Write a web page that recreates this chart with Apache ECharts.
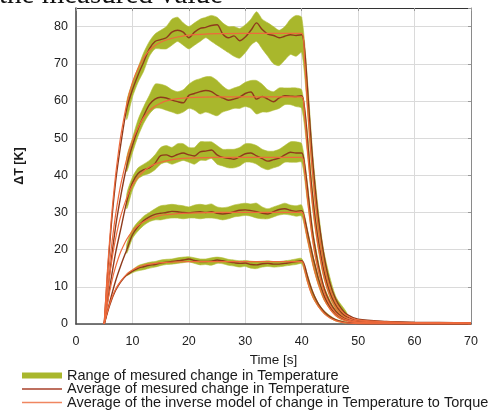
<!DOCTYPE html>
<html>
<head>
<meta charset="utf-8">
<script src="https://cdn.jsdelivr.net/npm/echarts@6/dist/echarts.min.js"></script>
<style>
  html, body { margin: 0; padding: 0; background: #fff; }
  #chart { width: 489px; height: 410px; }
</style>
</head>
<body>
<div id="chart"></div>
<script>
// time grids [s]
const timeMeas = [5,6,7,8,9,10,11,12,13,14,15,16,17,18,19,20,21,22,23,24,25,26,27,28,29,30,31,32,33,34,35,36,37,38,39,40,40.5,41,41.5,42,42.5,43,44,45,46,47,48,50,55,60,70];
const timeModel = [5,5.5,6,6.5,7,7.5,8,9,10,11,12,13,14,15,16,18,20,25,30,35,40,40.5,41,41.5,42,42.5,43,44,45,46,47,48,50,55,60,70];
const timeBand = [9,10,11,12,13,14,15,16,17,18,19,20,21,22,23,24,25,26,27,28,29,30,31,32,33,34,35,36,37,38,39,40,41,42,43,44,46,48];

// average of measured change in temperature, one array per load step
const meas1 = [0,22,38,49,58,63,67,70.5,74,76,76.5,77,78.5,79,78.5,77,78.5,79.5,79.8,80.3,80.5,78,77,77.5,76.2,77.2,79,81,79.2,78,77.6,77,77.4,77.8,77.6,77.8,74,64,53,43,35,28,18,11,6.8,4.2,2.6,1.3,0.7,0.5,0.3];
const meas2 = [0,14,26,35,42.5,48,52.5,56,59,60.5,61,60.8,60.2,59.8,59.5,61.5,62,62.5,62.8,62.5,61.5,60.8,60.2,60.5,61,62,62.4,60.5,61.2,60.5,59.8,60.8,61.4,61.3,61.2,61.4,58,50,41,33.5,27,22,13.8,8.5,5.2,3.1,1.9,0.9,0.5,0.35,0.25];
const meas3 = [0,10,19,26,33,38,40.5,41.5,42,43.2,45.3,45.5,45,45.6,46,45.5,45.2,46.3,46.5,46.8,45.5,44.8,44.6,44.3,45,45.8,46,45.2,44.5,43.8,44.2,44.6,45.5,46.2,46,46,43,37,30,24,19.5,15.5,9.5,5.8,3.5,2.1,1.3,0.6,0.3,0.2,0.15];
const meas4 = [0,6,11.5,16,20,24,26.2,27.8,28.8,29.5,29.8,30,30.3,30.2,30,29.9,30.1,30.2,30,30.2,29.8,29.6,29.8,30.2,30.6,30.7,30.5,30.2,29.8,29.6,30.2,30.8,31,30.6,30.3,30.5,28.5,25,21.5,18,15,12,7.5,4.6,2.8,1.7,1,0.4,0.2,0.15,0.1];
const meas5 = [0,5.2,9,11.5,13.2,14.2,15,15.4,15.8,16,16.4,16.6,16.8,17,17.2,17.5,17.1,16.8,16.8,16.9,17.2,17,16.7,16.5,16.3,16.4,16,15.9,16.2,16.3,16.1,16.1,16.3,16.5,16.8,17,15.8,13,10.5,8.4,6.7,5.3,3.3,2,1.2,0.7,0.4,0.15,0.05,0,0];

// inverse model
const model1 = [0,12.8,23.4,32.4,39.8,46,51.2,59.3,64.9,68.8,71.6,73.6,74.9,75.8,76.4,77.2,77.7,78.1,78.2,78.2,78.2,71,59,48,39,31.5,25,15.5,9.5,5.8,3.6,2.3,1.1,0.6,0.4,0.3];
const model2 = [0,9.5,17,23.5,29.2,34,38,44.5,49.3,52.8,55.6,57.4,58.6,59.4,60,60.6,60.9,61.1,61.1,61.1,61.1,56,47,38.5,31,25,20,12.2,7.3,4.4,2.6,1.6,0.8,0.5,0.35,0.25];
const model3 = [0,7.3,13.4,18.6,22.8,26.4,29.4,34,37.3,39.5,41.1,42.2,43,43.5,43.9,44.4,44.6,44.8,44.8,44.8,44.8,41,34,27.5,22,17.5,14,8.5,5.1,3,1.8,1.1,0.5,0.3,0.2,0.15];
const model4 = [0,4.9,9,12.5,15.3,17.7,19.7,22.8,25,26.5,27.5,28.3,28.8,29.2,29.4,29.7,29.85,30,30,30,30,27,23,19.5,16,13,10.5,6.5,4,2.3,1.3,0.8,0.35,0.2,0.15,0.1];
const model5 = [0,3,5.5,7.6,9.3,10.6,11.7,13.4,14.5,15.3,15.8,16.1,16.3,16.5,16.6,16.7,16.8,16.8,16.8,16.8,16.8,14.5,11.5,9,7.2,5.8,4.6,2.8,1.6,0.9,0.5,0.3,0.1,0.05,0,0];

// range of measured values (low / high)
const bandLo1 = [55,61,65,68,72,74,74,74,75,76,75,74,75,76,77,76,75,74,73,72,71.5,73,75,76,74,72,70,69.5,71,72.5,72,73,58,38,24,15,4.5,1.5];
const bandHi1 = [60,65,69,73,76,78,79,80,82,82.5,81,80,81,82,82.5,83,82.5,81,80,80,79.5,80.5,82,84,82,81,80,79,80,82,83,82.5,66,45,30,19,7.5,3];
const bandLo2 = [41,46,50.5,54,56.5,58,58,57.5,57,56.5,57,58,57.5,56.5,57,56.5,56,57,57.5,58,58,58.5,58,56.5,57,57,57.5,58,59,59,58.5,58,46,30,19.5,12,4,1.4];
const bandHi2 = [45,50,55,58.5,61.5,64.5,64.5,64,63,62.5,63,64.5,65.5,66,66.5,66.5,65.5,64,63,63.5,64,65,65.5,65.5,64.5,63,62.5,63.5,63.5,63.5,63.5,63,52,35,23,14.5,5.8,2.2];
const bandLo3 = [31,36,39,40,40.5,41.5,43,43.5,43,43.5,44,43.5,43,44,44,44.5,43,42.5,42,42,42.5,43.5,43.5,43,42,41.5,42,42.5,43.5,43.5,43.5,43.5,33,21.5,13.5,8.3,2.9,1];
const bandHi3 = [35,39.5,42,43,44,45.5,47.5,48,47.5,48.5,48.5,47.5,47.5,49,49,49,48,47,47,47,47.5,48.5,48.5,48,47,46.5,46.5,47,48,49,49,48.5,38,25,16.5,10,3.8,1.5];
const bandLo4 = [19,23,25,26.5,27.5,28,28,28.3,28.5,28.5,28.3,28.5,28.5,28.3,28.5,28.5,28.3,28,28.3,28.8,29,29.2,29,28.5,28.3,28.3,28.8,29.3,29.5,29.3,29,29,22.5,15.5,10.2,6.3,2.2,0.7];
const bandHi4 = [21.5,25.5,27.5,29,30,31,31.8,32,32.2,32,31.8,31.5,32,32.2,32,32.3,31.5,31.3,31.5,32,32.3,32.5,32.3,32.5,31.5,31,31.5,32,32.5,32,31.8,32,25.5,18.5,12.5,7.9,3,1.1];
const bandLo5 = [13,13.8,14.3,14.6,15,15.3,15.7,16,16.1,16.3,16.5,16.7,16.3,15.9,16,15.8,16.3,16.2,15.8,15.6,15.3,15.5,15,14.9,15.3,15.5,15.3,15.4,15.6,15.8,16,16.2,11.3,7,4.5,2.7,0.8,0.2];
const bandHi5 = [13.5,14.6,15.7,16.2,16.6,16.8,17.2,17.4,17.5,17.8,18,18.1,17.8,17.5,17.5,17.8,18,17.8,17.4,17.2,17,17.1,16.9,16.8,16.9,17,16.8,16.8,17,17.2,17.5,17.6,13.3,8.6,5.5,3.5,1.3,0.5];

const xTicks = [0,10,20,30,40,50,60,70];
const yTicks = [0,10,20,30,40,50,60,70,80];

const nameBand = 'Range of mesured change in Temperature';
const nameMeas = 'Average of mesured change in Temperature';
const nameModel = 'Average of the inverse model of change in Temperature to Torque';

const measList = [meas1, meas2, meas3, meas4, meas5];
const modelList = [model1, model2, model3, model4, model5];
const bandList = [[bandLo1, bandHi1], [bandLo2, bandHi2], [bandLo3, bandHi3], [bandLo4, bandHi4], [bandLo5, bandHi5]];

const pair = (t, v) => t.map((x, i) => [x, v[i]]);
const font = 'Arial, "Liberation Sans", sans-serif';
const lineIcon = 'path://M0,0H40V1.3H0Z';

const chart = echarts.init(document.getElementById('chart'));

const series = [];
series.push({
  name: nameBand,
  type: 'custom',
  coordinateSystem: 'cartesian2d',
  clip: true,
  z: 1,
  itemStyle: { color: '#a9b72c' },
  data: bandList.map((b, i) => [i]),
  renderItem: function (params, api) {
    const b = bandList[params.dataIndex];
    const pts = [];
    timeBand.forEach((t, i) => pts.push(api.coord([t, b[0][i]])));
    for (let i = timeBand.length - 1; i >= 0; i--) pts.push(api.coord([timeBand[i], b[1][i]]));
    return {
      type: 'polygon',
      shape: { points: pts, smooth: 0.25 },
      style: { fill: '#a9b72c', stroke: '#b3bf3c', lineWidth: 0.6 }
    };
  }
});
measList.forEach(m => {
  series.push({
    name: nameMeas,
    type: 'line',
    data: pair(timeMeas, m),
    smooth: 0.3,
    symbol: 'none',
    z: 2,
    lineStyle: { color: '#8e3a1c', width: 1.4 },
    itemStyle: { color: '#8e3a1c' }
  });
});
modelList.forEach(m => {
  series.push({
    name: nameModel,
    type: 'line',
    data: pair(timeModel, m),
    smooth: 0.3,
    symbol: 'none',
    z: 3,
    lineStyle: { color: '#ee6a3c', width: 1.2 },
    itemStyle: { color: '#ee6a3c' }
  });
});

const option = {
  animation: false,
  backgroundColor: '#fff',
  grid: { left: 76, right: 18, top: 8, bottom: 86 },
  graphic: [{
    type: 'text',
    left: -1,
    top: -19,
    style: { text: 'the measured value', font: '29px "Liberation Serif", "DejaVu Serif", serif', fill: '#111' }
  }],
  legend: {
    orient: 'vertical',
    left: 22,
    top: 368,
    padding: 0,
    itemWidth: 40,
    itemHeight: 6,
    itemGap: -1.5,
    selectedMode: false,
    textStyle: { fontSize: 14.5, color: '#1a1a1a', fontFamily: font, lineHeight: 13 },
    data: [
      { name: nameBand, icon: 'rect', itemStyle: { color: '#a9b72c' } },
      { name: nameMeas, icon: lineIcon, itemStyle: { color: '#a8402a' } },
      { name: nameModel, icon: lineIcon, itemStyle: { color: '#f08660' } }
    ]
  },
  xAxis: [{
    type: 'value',
    min: xTicks[0],
    max: xTicks[xTicks.length - 1],
    interval: 10,
    position: 'bottom',
    name: 'Time [s]',
    nameLocation: 'middle',
    nameGap: 27,
    nameTextStyle: { fontSize: 13.5, color: '#1a1a1a', fontFamily: font },
    axisLine: { lineStyle: { color: '#4d4d4d', width: 1.6 } },
    axisTick: { show: false },
    axisLabel: { fontSize: 12.5, color: '#222', fontFamily: font, margin: 11 },
    splitLine: { lineStyle: { color: '#dadada', width: 1 } }
  }, {
    type: 'value',
    min: xTicks[0],
    max: xTicks[xTicks.length - 1],
    interval: 10,
    position: 'top',
    axisLine: { onZero: false, lineStyle: { color: '#333', width: 1 } },
    axisTick: { inside: true, length: 3, lineStyle: { color: '#999' } },
    axisLabel: { show: false },
    splitLine: { show: false }
  }],
  yAxis: [{
    type: 'value',
    min: yTicks[0],
    max: 85,
    interval: 10,
    name: 'ΔT [K]',
    nameLocation: 'middle',
    nameGap: 50,
    nameTextStyle: { fontSize: 12.5, fontWeight: 'bold', color: '#1a1a1a', fontFamily: font },
    axisLine: { show: true, lineStyle: { color: '#4d4d4d', width: 1.6 } },
    axisTick: { show: false },
    axisLabel: {
      fontSize: 12.5, color: '#222', fontFamily: font, margin: 8,
      formatter: v => (yTicks.indexOf(v) >= 0 ? String(v) : '')
    },
    splitLine: { lineStyle: { color: '#dadada', width: 1 } }
  }, {
    type: 'value',
    min: yTicks[0],
    max: 85,
    interval: 10,
    position: 'right',
    axisLine: { show: true, onZero: false, lineStyle: { color: '#8a8a8a', width: 1 } },
    axisTick: { show: true, inside: true, length: 3, lineStyle: { color: '#999' } },
    axisLabel: { show: false },
    splitLine: { show: false }
  }],
  series: series
};

chart.setOption(option);
</script>
</body>
</html>
